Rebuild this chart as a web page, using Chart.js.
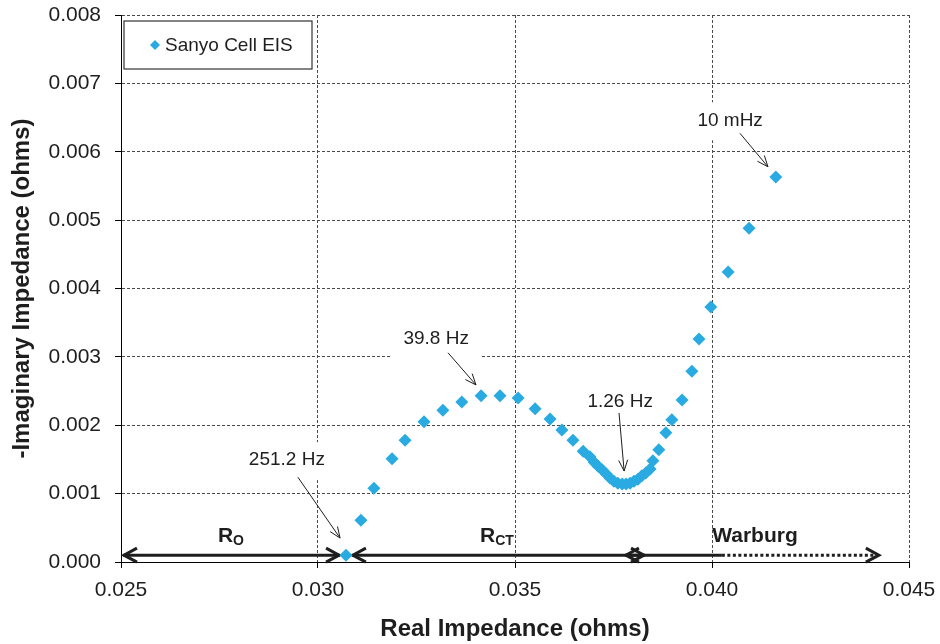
<!DOCTYPE html>
<html>
<head>
<meta charset="utf-8">
<title>Sanyo Cell EIS</title>
<script src="https://cdn.jsdelivr.net/npm/chart.js@4.4.1/dist/chart.umd.min.js"></script>
<style>
  html, body { margin: 0; padding: 0; background: #fff; }
  #chart { display: block; }
</style>
</head>
<body>
<canvas id="chart" width="940" height="644"></canvas>
<script>
// Nyquist plot, values (ohms)
const seriesName = 'Sanyo Cell EIS';
const realZ = [
    0.03071, 0.03109, 0.03142, 0.03188, 0.03221, 0.03269, 0.03317, 0.03365,
    0.03414, 0.03462, 0.03508, 0.03551, 0.03589, 0.03619, 0.03647, 0.03673,
    0.03690, 0.03701, 0.03711, 0.03721, 0.03731, 0.03741, 0.03751, 0.03761,
    0.03772, 0.03782, 0.03792, 0.03802, 0.03812, 0.03822, 0.03832, 0.03843,
    0.03850, 0.03865, 0.03883, 0.03898, 0.03924, 0.03949, 0.03967, 0.03997,
    0.04041, 0.04094, 0.04162
];
const imagZ = [
    0.00010, 0.00061, 0.00108, 0.00151, 0.00178, 0.00205, 0.00222, 0.00234,
    0.00243, 0.00243, 0.00240, 0.00224, 0.00209, 0.00193, 0.00178, 0.00162,
    0.00154, 0.00146, 0.00140, 0.00135, 0.00129, 0.00123, 0.00118, 0.00115,
    0.00114, 0.00114, 0.00115, 0.00118, 0.00121, 0.00126, 0.00130, 0.00136,
    0.00148, 0.00164, 0.00189, 0.00208, 0.00237, 0.00279, 0.00326, 0.00373,
    0.00424, 0.00488, 0.00563
];

const xTicks = [0.025, 0.030, 0.035, 0.040, 0.045];
const yTicks = [0.000, 0.001, 0.002, 0.003, 0.004, 0.005, 0.006, 0.007, 0.008];

// frequency callouts
const freqLabels = ['251.2 Hz', '39.8 Hz', '1.26 Hz', '10 mHz'];

// regions along the real axis (ohms)
const regionNames = ['R|O', 'R|CT', 'Warburg|'];
const regionStart = [0.02505, 0.03086, 0.03779];
const regionEnd = [0.03056, 0.03830, 0.04426];
const warburgSolidEnd = 0.04025;

// annotation placement, in axis units
const callouts = [
    { text: [0.02921, 0.00149], from: [0.02949, 0.00124], to: [0.03056, 0.00035] },
    { text: [0.03300, 0.00327], from: [0.03330, 0.00306], to: [0.03401, 0.00259] },
    { text: [0.03767, 0.00235], from: [0.03764, 0.00218], to: [0.03777, 0.00133] },
    { text: [0.04046, 0.00646], from: [0.04071, 0.00627], to: [0.04142, 0.00578] }
];
const regionLineY = 0.0001;
const regionTextY = 0.00029;
const regionTextX = [0.02779, 0.03454, 0.04109];

const FONT = '"Liberation Sans", Arial, sans-serif';
const INK = '#1e1e1e';
const BLUE = '#29abe2';

function chevron(ctx, tx, ty, angle, len, half) {
    const bx = tx - Math.cos(angle) * len;
    const by = ty - Math.sin(angle) * len;
    const nx = -Math.sin(angle) * half;
    const ny = Math.cos(angle) * half;
    ctx.beginPath();
    ctx.moveTo(bx + nx, by + ny);
    ctx.lineTo(tx, ty);
    ctx.lineTo(bx - nx, by - ny);
    ctx.stroke();
}

function drawRegionArrow(ctx, x1, x2, y, dottedFrom) {
    ctx.save();
    ctx.strokeStyle = INK;
    ctx.lineWidth = 3;
    ctx.lineJoin = 'miter';
    ctx.beginPath();
    ctx.moveTo(x1, y);
    ctx.lineTo(dottedFrom != null ? dottedFrom : x2, y);
    ctx.stroke();
    if (dottedFrom != null) {
        ctx.setLineDash([3, 2.5]);
        ctx.beginPath();
        ctx.moveTo(dottedFrom, y);
        ctx.lineTo(x2 - 2, y);
        ctx.stroke();
        ctx.setLineDash([]);
    }
    chevron(ctx, x1 + 1, y, Math.PI, 13, 7);
    chevron(ctx, x2 - 1, y, 0, 13, 7);
    ctx.restore();
}

function drawSubLabel(ctx, label, cx, baseY) {
    const [main, sub] = label.split('|');
    ctx.font = 'bold 21px ' + FONT;
    const w1 = ctx.measureText(main).width;
    ctx.font = 'bold 14px ' + FONT;
    const w2 = sub ? ctx.measureText(sub).width : 0;
    let left = cx - (w1 + w2) / 2;
    ctx.fillStyle = INK;
    ctx.textAlign = 'left';
    ctx.textBaseline = 'alphabetic';
    ctx.font = 'bold 21px ' + FONT;
    ctx.fillText(main, left, baseY);
    if (sub) {
        ctx.font = 'bold 14px ' + FONT;
        ctx.fillText(sub, left + w1, baseY + 3);
    }
}

const overlayPlugin = {
    id: 'overlay',
    beforeDatasetsDraw(chart) {
        const { ctx, scales: { x, y } } = chart;
        ctx.save();

        // frequency callouts with white label boxes
        callouts.forEach((c, i) => {
            const tx = x.getPixelForValue(c.text[0]);
            const ty = y.getPixelForValue(c.text[1]);
            ctx.font = '19px ' + FONT;
            const w = ctx.measureText(freqLabels[i]).width;
            ctx.fillStyle = '#fff';
            ctx.fillRect(tx - w / 2 - 12, ty - 18, w + 24, 38);
            ctx.fillStyle = INK;
            ctx.textAlign = 'center';
            ctx.textBaseline = 'middle';
            ctx.fillText(freqLabels[i], tx, ty);

            const x1 = x.getPixelForValue(c.from[0]);
            const y1 = y.getPixelForValue(c.from[1]);
            const x2 = x.getPixelForValue(c.to[0]);
            const y2 = y.getPixelForValue(c.to[1]);
            ctx.strokeStyle = INK;
            ctx.lineWidth = 1;
            ctx.beginPath();
            ctx.moveTo(x1, y1);
            ctx.lineTo(x2, y2);
            ctx.stroke();
            chevron(ctx, x2, y2, Math.atan2(y2 - y1, x2 - x1), 11, 4.5);
        });

        // R_O, R_CT and Warburg spans
        const ly = y.getPixelForValue(regionLineY);
        const by = y.getPixelForValue(regionTextY);
        regionNames.forEach((name, i) => {
            const x1 = x.getPixelForValue(regionStart[i]);
            const x2 = x.getPixelForValue(regionEnd[i]);
            const dotted = i === 2 ? x.getPixelForValue(warburgSolidEnd) : null;
            drawRegionArrow(ctx, x1, x2, ly, dotted);
            drawSubLabel(ctx, name, x.getPixelForValue(regionTextX[i]), by);
        });
        ctx.restore();
    },
    afterDatasetsDraw(chart) {
        // boxed legend in the top left corner
        const { ctx, chartArea } = chart;
        const left = chartArea.left + 3;
        const top = chartArea.top + 6;
        ctx.save();
        ctx.fillStyle = '#fff';
        ctx.fillRect(left, top, 188, 48);
        ctx.strokeStyle = '#333';
        ctx.lineWidth = 1.2;
        ctx.strokeRect(left, top, 188, 48);
        const mx = left + 31;
        const my = top + 24;
        ctx.fillStyle = BLUE;
        ctx.beginPath();
        ctx.moveTo(mx, my - 5);
        ctx.lineTo(mx + 5, my);
        ctx.lineTo(mx, my + 5);
        ctx.lineTo(mx - 5, my);
        ctx.closePath();
        ctx.fill();
        ctx.fillStyle = INK;
        ctx.font = '19px ' + FONT;
        ctx.textAlign = 'left';
        ctx.textBaseline = 'middle';
        ctx.fillText(seriesName, left + 41, my + 1);
        ctx.restore();
    }
};

const gridStyle = {
    color: '#4a4a4a',
    lineWidth: 1,
    tickLength: 6,
    tickColor: '#000',
    tickBorderDash: []
};

new Chart(document.getElementById('chart'), {
    type: 'scatter',
    data: {
        datasets: [{
            label: seriesName,
            data: realZ.map((v, i) => ({ x: v, y: imagZ[i] })),
            pointStyle: 'rectRot',
            pointRadius: 6.5,
            pointBackgroundColor: BLUE,
            pointBorderWidth: 0,
            showLine: false
        }]
    },
    options: {
        responsive: false,
        animation: false,
        events: [],
        layout: { padding: { top: 15, right: 31, left: 0, bottom: 0 } },
        plugins: {
            legend: { display: false },
            tooltip: { enabled: false }
        },
        scales: {
            x: {
                type: 'linear',
                min: xTicks[0],
                max: xTicks[xTicks.length - 1],
                afterBuildTicks: s => { s.ticks = xTicks.map(v => ({ value: v })); },
                afterFit: s => { s.height = 82; s.paddingLeft = 0; s.paddingRight = 0; },
                grid: gridStyle,
                border: { display: true, color: '#000', width: 1, dash: [3, 2] },
                ticks: {
                    color: INK,
                    padding: 10,
                    maxRotation: 0,
                    font: { family: FONT, size: 21 },
                    callback: v => v.toFixed(3)
                },
                title: {
                    display: true,
                    text: 'Real Impedance (ohms)',
                    color: INK,
                    padding: { top: 0, bottom: 0 },
                    font: { family: FONT, size: 24, weight: 'bold' }
                }
            },
            y: {
                type: 'linear',
                min: yTicks[0],
                max: yTicks[yTicks.length - 1],
                afterBuildTicks: s => { s.ticks = yTicks.map(v => ({ value: v })); },
                afterFit: s => { s.width = 121; s.paddingTop = 0; s.paddingBottom = 0; },
                grid: gridStyle,
                border: { display: true, color: '#000', width: 1, dash: [3, 2] },
                ticks: {
                    color: INK,
                    padding: 14,
                    font: { family: FONT, size: 21 },
                    callback: v => v.toFixed(3)
                },
                title: {
                    display: true,
                    text: '-Imaginary Impedance (ohms)',
                    color: INK,
                    padding: { top: 8, bottom: 0 },
                    font: { family: FONT, size: 24, weight: 'bold' }
                }
            }
        }
    },
    plugins: [overlayPlugin]
});
</script>
</body>
</html>
